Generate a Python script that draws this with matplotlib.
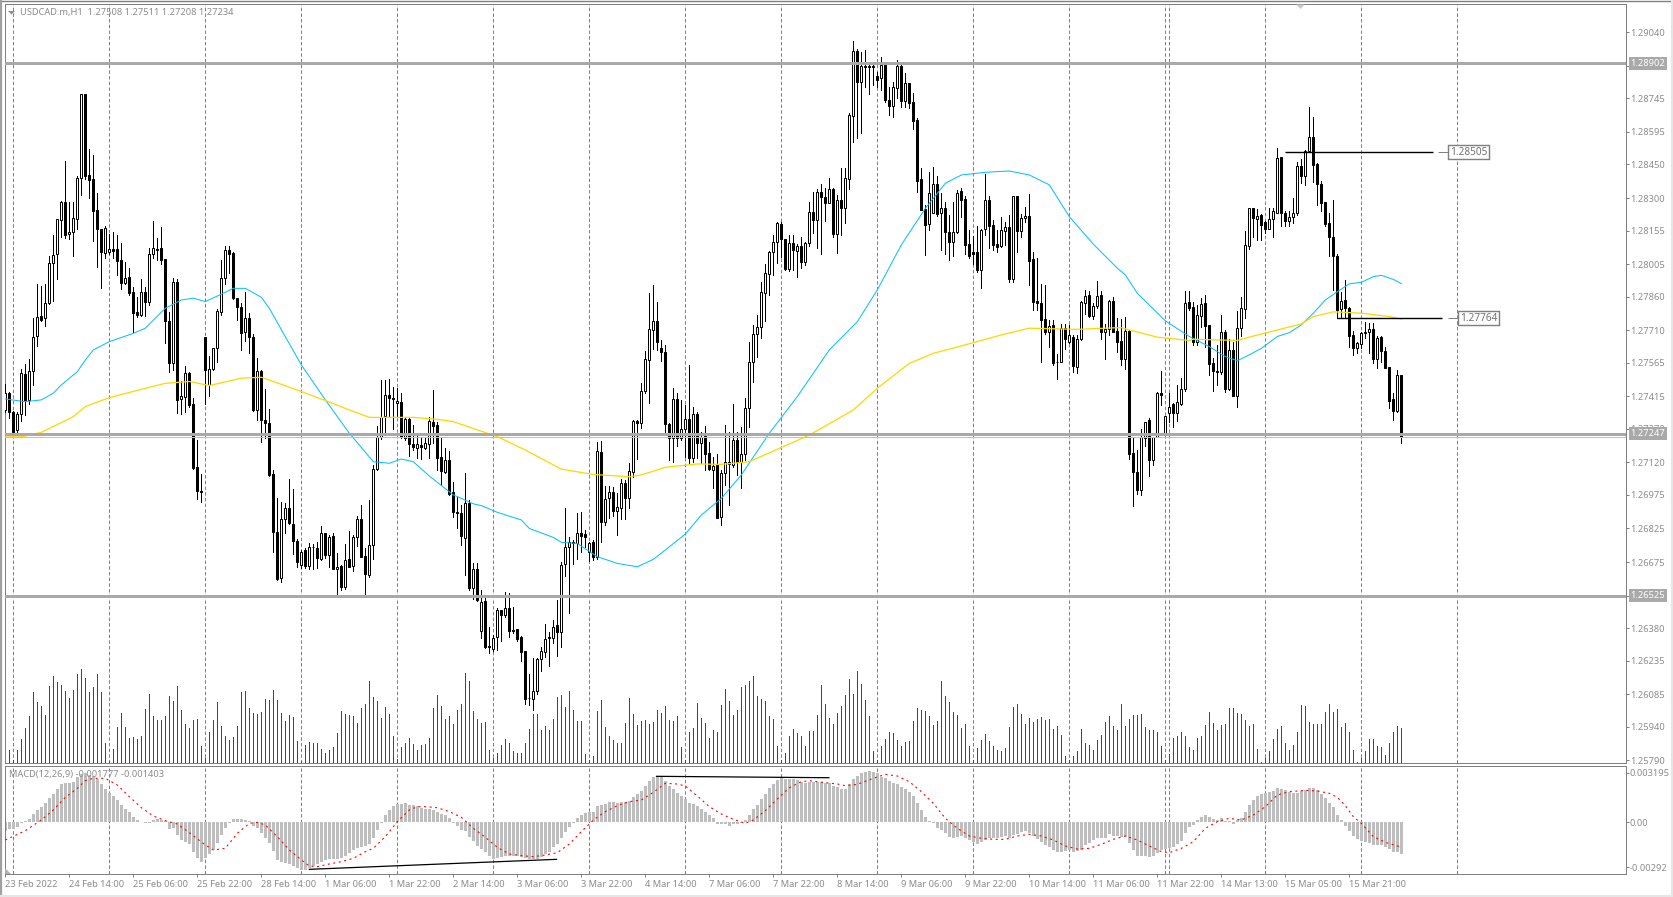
import numpy as np
import matplotlib
matplotlib.use("Agg")
import matplotlib.pyplot as plt
from matplotlib.patches import Polygon
from matplotlib.lines import Line2D
from matplotlib.transforms import blended_transform_factory as blend

plt.rcParams['font.family'] = ['Noto Sans', 'DejaVu Sans']

PT = 1e-5          # prices below are in 1e-5 units
MACD_UNIT = 2.16e-5  # MACD readings below are in this unit

opens = [
127354,127429,127344,127266,127335,127513,127399,127528,127682,127772,
127763,127830,128012,128049,128201,128284,128138,128150,128207,128391,
128763,128403,128384,128246,128162,128054,128057,128073,128073,128024,
127923,127946,127879,127790,127778,127879,127838,128049,128073,128076,
128028,127751,127565,127924,127405,127414,127518,127379,127098,126993,
127679,127466,127536,127629,127793,127945,128068,128054,127853,127815,
127704,127763,127679,127354,127528,127309,127295,127067,126808,126603,
126866,126915,126844,126769,126662,126729,126659,126741,126737,126689,
126804,126707,126792,126646,126658,126565,126687,126659,126786,126866,
126702,126619,126749,127089,127235,127327,127420,127408,127384,127388,
127231,127312,127202,127186,127198,127186,127201,127301,127287,127143,
127079,127131,126987,126897,126893,126784,126937,126558,126643,126369,
126501,126302,126287,126339,126459,126439,126468,126372,126375,126339,
126278,126068,126065,126101,126241,126275,126334,126337,126392,126364,
126665,126744,126766,126758,126803,126799,126721,126763,126699,127165,
126855,126959,126986,126904,126918,127026,126959,127078,127303,127294,
127440,127575,127709,127749,127629,127611,127291,127230,127401,127227,
127267,127312,127141,127334,127208,127238,127160,127086,127108,126875,
127071,127123,127108,127219,127123,127156,127361,127570,127692,127726,
127878,127960,128061,128102,128184,128116,127983,128098,128065,128085,
128016,128098,128236,128204,128326,128303,128280,128339,128140,128291,
128257,128385,128668,128957,128820,128891,128891,128891,128843,128838,
128894,128738,128713,128793,128891,128733,128812,128727,128647,128384,
128251,128184,128235,128361,128232,128254,128147,128102,128150,128332,
128295,128094,128058,128058,127981,128161,128290,128179,128094,128088,
128155,128170,127939,128308,128155,128210,128219,128027,127841,127830,
127759,127700,127732,127567,127566,127722,127659,127680,127548,127670,
127833,127868,127774,127816,127868,127700,127714,127841,127707,127662,
127582,127708,127161,127078,126997,127228,127308,127131,127235,127429,
127253,127342,127380,127342,127381,127447,127835,127812,127659,127774,
127830,127732,127562,127528,127525,127701,127449,127622,127418,127719,
127804,128088,128254,128208,128223,128193,128164,128205,128235,128482,
128235,128199,128214,128235,128443,128400,128512,128571,128452,128363,
128281,128187,128125,128043,127804,127845,127808,127689,127632,127649,
127696,127704,127714,127583,127679,127616,127545,127402,127351,127508]

closes = [
127429,127347,127257,127335,127518,127399,127528,127679,127771,127756,
127830,128009,128045,128205,128284,128135,128150,128210,128388,128763,
128400,128381,128240,128162,128057,128165,128071,128065,128021,127921,
127942,127876,127789,127778,127879,127838,128049,128076,128070,128025,
127753,127565,127924,127400,127415,127518,127377,127094,126990,126988,
127533,127537,127629,127796,127942,128068,128051,127853,127815,127699,
127763,127679,127354,127530,127307,127298,127064,126807,126600,126866,
126915,126848,126771,126677,126722,126659,126741,126740,126692,126804,
126707,126789,126644,126655,126565,126682,126655,126786,126866,126699,
126622,126749,127089,127235,127324,127420,127406,127403,127396,127235,
127312,127202,127190,127201,127190,127205,127305,127284,127141,127083,
127131,126979,126900,126894,126792,126937,126561,126643,126506,126498,
126297,126297,126334,126459,126439,126468,126369,126367,126333,126275,
126065,126067,126101,126241,126276,126333,126342,126386,126364,126662,
126744,126766,126758,126803,126793,126788,126758,126699,127172,126855,
126955,126986,126904,126919,127026,126959,127083,127303,127297,127437,
127580,127714,127749,127659,127614,127290,127230,127401,127227,127267,
127312,127141,127334,127208,127235,127159,127089,127104,126873,127071,
127123,127113,127219,127120,127156,127361,127567,127692,127723,127879,
127964,128061,128102,128187,128117,127983,128098,128068,128085,128016,
128098,128236,128204,128326,128306,128280,128339,128140,128291,128254,
128388,128671,128957,128820,128888,128887,128887,128887,128829,128894,
128738,128713,128797,128891,128733,128812,128726,128646,128378,128247,
128180,128321,128361,128229,128254,128150,128102,128150,128324,128292,
128091,128043,128051,127979,128158,128290,128177,128091,128083,128158,
128170,127939,128307,128155,128210,128222,128021,127838,127833,127756,
127700,127731,127563,127566,127722,127671,127689,127552,127670,127836,
127863,127774,127819,127863,127700,127714,127841,127704,127659,127582,
127707,127158,127075,126997,127232,127302,127131,127235,127429,127421,
127325,127369,127342,127389,127448,127830,127808,127659,127778,127826,
127729,127560,127530,127525,127704,127449,127622,127418,127719,127808,
128089,128254,128210,128222,128181,128161,128205,128244,128478,128235,
128199,128214,128235,128443,128400,128512,128571,128449,128363,128280,
128184,128125,128043,127801,127842,127807,127686,127632,127652,127696,
127704,127714,127582,127674,127615,127540,127396,127351,127509,127234]

highs = [
127469,127436,127350,127347,127536,127558,127580,127763,127915,127909,
127915,128043,128135,128207,128289,128466,128284,128284,128400,128763,
128763,128519,128490,128321,128162,128177,128138,128147,128135,128098,
128016,127987,127903,127857,127937,127905,128076,128198,128121,128170,
128028,127793,127942,127939,127484,127551,127525,127406,127220,127069,
127679,127597,127632,127805,128024,128088,128088,128061,127853,127830,
127879,127786,127692,127585,127533,127448,127359,127086,126960,126945,
126937,127046,127001,126778,126729,126737,126759,126756,126766,126836,
126804,126796,126804,126714,126662,126756,126814,126796,126881,126930,
126737,126952,127109,127283,127488,127488,127491,127458,127451,127429,
127317,127317,127287,127240,127235,127235,127324,127443,127302,127235,
127186,127173,127031,126967,126930,127071,126952,126670,126673,126550,
126513,126386,126349,126468,126461,126540,126535,126473,126375,126345,
126279,126175,126245,126245,126294,126397,126364,126416,126506,126677,
126915,126788,126773,126892,126900,126818,126766,126773,127209,127214,
127014,127014,127011,126982,127044,127041,127119,127309,127309,127473,
127619,127877,127912,127834,127666,127644,127297,127450,127428,127398,
127376,127555,127369,127343,127257,127284,127209,127145,127157,127086,
127287,127257,127381,127257,127277,127406,127656,127733,127778,127927,
128006,128064,128135,128195,128195,128117,128135,128135,128094,128128,
128105,128284,128326,128341,128361,128344,128388,128344,128314,128433,
128436,128678,129001,128966,128951,128961,128902,128902,128864,128928,
128909,128797,128820,128916,128894,128860,128812,128768,128659,128433,
128269,128415,128437,128399,128321,128284,128224,128284,128336,128344,
128307,128158,128131,128177,128162,128408,128310,128202,128158,128217,
128195,128225,128311,128311,128228,128262,128317,128061,128031,127915,
127912,127756,127756,127603,127737,127737,127734,127689,127689,127841,
127890,127886,127830,127930,127886,127737,127845,127860,127764,127761,
127771,127711,127232,127176,127268,127302,127317,127235,127436,127528,
127328,127429,127384,127466,127496,127883,127883,127838,127823,127853,
127868,127734,127585,127644,127778,127711,127671,127659,127798,127857,
128155,128254,128254,128251,128228,128198,128254,128254,128522,128485,
128240,128244,128299,128460,128473,128515,128705,128661,128455,128376,
128284,128232,128292,128051,127882,127934,127815,127707,127659,127704,
127745,127741,127741,127682,127684,127637,127548,127429,127533,127511]

lows = [
127347,127320,127250,127257,127305,127332,127381,127466,127641,127751,
127731,127827,127842,127939,128128,128123,128118,128043,128162,128314,
128385,128302,128110,127990,127900,128034,128049,128031,127957,127894,
127918,127868,127704,127771,127775,127775,127823,128031,128024,128004,
127652,127525,127533,127341,127336,127347,127365,127091,126957,126942,
127381,127417,127533,127570,127778,127915,127967,127850,127756,127622,
127664,127607,127350,127309,127213,127228,127059,126722,126595,126588,
126804,126845,126711,126655,126647,126647,126643,126643,126647,126685,
126692,126655,126644,126528,126551,126554,126652,126637,126747,126699,
126533,126610,126689,127086,127225,127254,127324,127268,127324,127231,
127220,127149,127176,127138,127134,127179,127140,127208,127086,127019,
127071,126975,126878,126826,126751,126618,126551,126509,126499,126334,
126293,126270,126279,126282,126324,126431,126342,126360,126324,126235,
126041,126037,126014,126086,126190,126253,126211,126312,126257,126294,
126613,126449,126666,126689,126721,126744,126680,126684,126687,126766,
126840,126870,126880,126796,126867,126867,126918,127056,127135,127272,
127428,127386,127624,127622,127572,127250,127130,127123,127194,127220,
127145,127116,127123,127141,127116,127086,127086,127004,126873,126841,
127019,126930,127101,127064,127007,127131,127280,127480,127592,127674,
127753,127867,127957,128012,128038,127979,127974,127979,127949,127989,
128001,128088,128143,128076,128050,128198,128277,128128,128055,128135,
128190,128341,128550,128570,128592,128797,128763,128805,128797,128782,
128730,128671,128663,128745,128708,128705,128701,128608,128329,128247,
128046,128158,128235,128222,128068,128050,128024,128043,128143,128217,
128049,128034,128005,127969,127900,128136,128076,128069,128061,128083,
128091,127927,127927,128061,128128,128195,127912,127801,127801,127570,
127694,127637,127555,127493,127566,127627,127652,127522,127521,127667,
127783,127768,127761,127808,127671,127582,127689,127700,127612,127555,
127537,127136,126927,126978,126975,127191,127060,127109,127232,127374,
127250,127302,127280,127305,127377,127439,127801,127644,127644,127726,
127634,127510,127439,127466,127515,127432,127443,127417,127369,127684,
127766,128073,128128,128113,128113,128143,128161,128125,128235,128176,
128176,128176,128187,128225,128366,128359,128504,128370,128269,128240,
128176,128043,127890,127763,127763,127763,127634,127600,127607,127629,
127674,127607,127562,127543,127570,127540,127362,127310,127347,127208]

volumes = [
100,40,10,40,73,106,142,214,184,172,
145,232,262,244,235,217,196,220,268,283,
256,214,229,268,214,61,7,43,109,151,
109,76,79,73,82,163,208,142,130,130,
142,202,187,232,160,118,106,130,133,52,
16,94,130,184,112,82,70,79,112,214,
217,166,151,148,154,193,190,220,190,151,
127,145,139,67,7,55,64,61,61,43,
31,40,49,91,157,148,145,142,121,166,
178,247,199,187,136,169,148,82,13,49,
61,76,58,40,55,58,76,166,205,172,
133,142,118,160,178,271,247,157,133,121,
124,40,16,31,55,73,61,37,31,31,
61,103,148,148,100,112,100,133,199,205,
169,217,160,127,127,28,10,22,157,190,
109,82,70,61,61,121,196,148,115,127,
130,118,124,160,151,172,130,127,142,49,
10,94,106,181,136,121,76,100,94,175,
223,187,145,160,229,235,247,262,202,193,
187,142,133,52,10,31,82,103,91,82,
52,97,97,145,235,178,136,118,151,172,
205,253,208,277,238,190,142,37,10,52,
73,94,91,70,52,64,67,127,166,160,
157,142,115,127,247,202,184,154,145,106,
118,52,10,46,70,88,67,52,40,37,
46,109,169,178,148,118,136,124,133,139,
130,133,103,112,85,22,10,22,37,103,
61,55,40,70,85,124,142,112,100,178,
112,133,145,145,148,109,100,100,94,52,
10,28,76,82,94,82,49,40,76,82,
115,154,121,100,115,118,166,166,151,148,
130,112,118,43,4,16,37,73,103,112,
61,40,55,94,175,172,124,118,118,118,
154,178,154,163,109,121,94,40,4,16,
37,73,73,52,49,25,61,94,112,106]

macd_hist = [
-27,-22,-20,-14,-4,2,10,24,36,46,
58,72,84,99,114,116,117,120,134,144,
146,141,138,128,114,99,86,78,66,51,
39,30,15,6,-1,-4,-2,5,8,6,
2,-21,-17,-39,-55,-60,-66,-90,-108,-120,
-109,-96,-84,-63,-39,-18,-2,8,9,8,
6,2,-11,-18,-34,-48,-63,-87,-114,-120,
-123,-126,-132,-138,-143,-144,-139,-132,-126,-120,
-114,-111,-111,-111,-108,-102,-94,-84,-77,-74,
-72,-66,-48,-24,-4,21,36,48,54,55,
57,52,50,48,42,39,39,36,30,24,
21,12,-2,-12,-24,-27,-45,-57,-72,-81,
-90,-102,-111,-108,-105,-102,-101,-102,-102,-105,
-108,-110,-111,-111,-105,-96,-90,-75,-66,-48,
-30,-15,-2,12,21,27,30,30,48,51,
54,60,60,57,60,60,63,75,84,93,
108,123,135,138,136,123,108,99,87,78,
69,57,54,48,39,30,21,12,-6,-7,
-7,-11,-6,-6,-3,6,21,39,51,69,
84,102,114,126,132,129,129,129,126,120,
117,120,120,120,120,117,117,108,105,99,
99,114,129,138,147,150,153,150,147,135,
132,123,117,114,105,99,90,78,57,36,
15,3,-2,-17,-24,-33,-45,-48,-45,-42,
-48,-54,-60,-66,-60,-54,-48,-48,-48,-45,
-42,-48,-39,-36,-30,-27,-33,-42,-51,-60,
-69,-75,-84,-90,-90,-87,-84,-90,-87,-84,
-69,-63,-54,-48,-48,-48,-36,-42,-42,-45,
-45,-63,-84,-102,-102,-102,-105,-102,-93,-84,
-81,-78,-75,-66,-57,-33,-15,-9,6,15,
21,15,9,6,12,3,3,-6,6,12,
30,51,66,78,84,87,90,93,102,99,
96,90,87,87,93,96,102,102,96,84,
72,57,45,21,6,-12,-27,-42,-51,-57,
-60,-63,-69,-69,-69,-75,-81,-90,-90,-96]

signal_bars = [0,5,9,12,15,18,20,22,25,28,31,34,37,40,43,46,50,52,55,58,61,63,65,68,71,74,76,78,81,84,
87,90,92,95,98,101,103,105,108,111,114,117,120,123,126,129,132,135,138,141,144,147,150,153,156,159,162,165,168,170,
173,176,179,182,185,187,190,193,196,199,201,205,208,210,213,217,220,223,226,229,232,235,238,241,244,247,250,253,256,259,
262,265,268,271,274,277,280,283,286,289,291,294,297,300,303,306,309,312,315,318,321,325,328,331,333,335,337,339,342,345,348,349]
signal_vals = [-54,-26,6,36,74,101,124,131,131,111,76,43,18,4,-6,-32,-69,-84,-79,-34,-4,-1,-9,-44,-84,-114,-132,-134,-126,-119,
-109,-89,-79,-44,1,36,46,46,43,31,14,-19,-46,-76,-96,-101,-104,-99,-92,-66,-29,6,31,49,61,66,89,116,114,108,
78,46,24,8,-4,6,34,69,103,121,124,118,114,109,113,131,143,138,121,91,56,11,-19,-42,-49,-52,-52,-42,-37,-42,
-54,-72,-81,-79,-67,-52,-42,-54,-72,-89,-92,-79,-59,-19,1,11,6,21,46,81,91,95,93,86,74,49,16,-4,-44,-61,-72,-74]

ma_fast_bars = [0,5,9,12,14,18,20,22,26,32,35,40,44,47,50,54,57,60,64,66,70,74,80,86,92,96,99,102,106,112,117,119,
123,129,131,137,139,143,148,153,158,162,165,170,174,179,184,191,198,206,213,218,224,230,235,239,245,251,256,261,266,272,
278,280,283,290,296,301,305,308,311,314,318,321,324,327,330,333,336,339,342,344,347,349]
ma_fast = [127403,127391,127399,127429,127466,127525,127577,127622,127659,127696,127719,127808,127845,127853,127838,127871,127897,127897,127857,127808,127681,127555,
127399,127250,127123,127116,127135,127123,127059,126975,126935,126927,126897,126863,126825,126785,126763,126758,126699,126669,126654,126687,
126729,126800,126885,126959,127064,127250,127414,127622,127748,127890,128091,128254,128366,128403,128415,128421,128403,128359,128217,128094,
127987,127957,127875,127752,127682,127637,127592,127574,127600,127629,127682,127699,127734,127786,127845,127882,127917,127924,127949,127955,127937,127918]

ma_slow_bars = [0,4,9,17,20,26,34,40,46,51,59,64,67,74,80,86,91,102,108,112,118,123,130,139,147,156,159,165,173,179,186,
201,212,218,226,232,239,249,256,268,279,281,288,296,297,308,312,318,324,327,332,339,346,349]
ma_slow = [127234,127234,127254,127324,127369,127409,127446,127473,127481,127463,127496,127500,127481,127436,127396,127354,127321,127321,127312,127302,127265,
127235,127175,127090,127066,127056,127064,127098,127113,127111,127123,127242,127354,127451,127562,127607,127640,127689,127719,127714,127722,127711,127679,127664,
127670,127664,127684,127711,127738,127771,127792,127786,127771,127760]

price_ticks = [1.29040,1.28890,1.28745,1.28595,1.28450,1.28300,1.28155,1.28005,1.27860,1.27710,1.27565,1.27415,
               1.27270,1.27120,1.26975,1.26825,1.26675,1.26525,1.26380,1.26235,1.26085,1.25940,1.25790]
level_prices = [1.28902, 1.27247, 1.26525]
bid_price = 1.27234
time_labels = ['23 Feb 2022','24 Feb 14:00','25 Feb 06:00','25 Feb 22:00','28 Feb 14:00','1 Mar 06:00','1 Mar 22:00',
               '2 Mar 14:00','3 Mar 06:00','3 Mar 22:00','4 Mar 14:00','7 Mar 06:00','7 Mar 22:00','8 Mar 14:00',
               '9 Mar 06:00','9 Mar 22:00','10 Mar 14:00','11 Mar 06:00','11 Mar 22:00','14 Mar 13:00','15 Mar 05:00','15 Mar 21:00']
separator_bars = [2,26,50,74,98,122,146,170,194,218,242,266,290,291,315,339,363]
hi_callouts = [(1.28505, 320, 356.8), (1.27764, 333, 359.2)]
macd_trends = [((76, 137.8), (-0.003067, -0.00242)), ((162.8, 205.9), (0.002960, 0.002870))]

W, H = 1673, 897
fig = plt.figure(figsize=(W/100, H/100), dpi=100, facecolor='white')
def rect(l, t, r, b):
    return [l/W, 1-b/H, (r-l)/W, (b-t)/H]

L, R = 4.5, 1625.7
GR = '#808080'
TXT = '#8c8c8c'
PX = 0.72
FS = 6.7

axv = fig.add_axes(rect(L, 4, R, 763.3), zorder=0)
ax = fig.add_axes(rect(L, 4, R, 763.3), zorder=1)
axm = fig.add_axes(rect(L, 765.5, R, 874), zorder=1)
ax.patch.set_visible(False)

x = np.arange(len(closes))
xlim = ((L-5.33)/4, (R-5.33)/4)
for a in (axv, ax, axm):
    a.set_xlim(*xlim)
    for s in a.spines.values():
        s.set_color(GR); s.set_linewidth(PX)

dash = (0, (3.4, 2.3))
# volumes
axv.set_ylim(0, 2277)
axv.set_xticks([]); axv.set_yticks([])
axv.vlines(x, 0, volumes, color='#0c700c', lw=PX, antialiased=False, zorder=2)
for a in (axv, axm):
    a.vlines(separator_bars, 0, 1, transform=a.get_xaxis_transform(), color=GR, lw=PX, linestyles=[dash], zorder=1)

# candles
O, C, Hi, Lo = (np.array(v)*PT for v in (opens, closes, highs, lows))
ax.set_ylim(1.2904-(763.3-32.3)/22400, 1.2904+(32.3-4)/22400)
ax.vlines(x, Lo, Hi, color='black', lw=PX, antialiased=False, zorder=3)
up = C >= O
ax.bar(x[up], (C-O)[up], bottom=O[up], width=0.5, facecolor='white', edgecolor='black', linewidth=PX, zorder=4)
ax.bar(x[~up], (C-O)[~up], bottom=O[~up], width=0.5, facecolor='black', edgecolor='black', linewidth=PX, zorder=4)

# moving averages and levels
ax.plot(ma_fast_bars, np.array(ma_fast)*PT, color='#00bfff', lw=PX, zorder=5)
ax.plot(ma_slow_bars, np.array(ma_slow)*PT, color='#ffd700', lw=PX+0.2, zorder=5)
ax.axhline(bid_price, color='#c0c0c0', lw=PX, zorder=6)
for p in level_prices:
    ax.axhline(p, color='#a9a9a9', lw=2.16, zorder=6)

ax.yaxis.tick_right()
ax.set_yticks(price_ticks)
ax.set_yticklabels([f'{p:.5f}' for p in price_ticks], fontsize=FS, color=TXT)
ax.tick_params(axis='y', length=2.2, width=PX, color=GR, pad=1.2)
ax.set_xticks([])

# level price tags on the axis
tfig = blend(fig.transFigure, ax.transData)
for p in level_prices:
    fig.text(1630.5/W, p, f'{p:.5f}', transform=tfig, fontsize=FS, color='white', va='center', ha='left', zorder=20,
             bbox=dict(facecolor='#a9a9a9', edgecolor='none', pad=1.4))

# price callouts
for price, a0, a1 in hi_callouts:
    ax.hlines(price, a0, a1, color='black', lw=1.0, zorder=7)
    ax.hlines(price, a1+1.4, a1+4.0, color=GR, lw=PX, zorder=7)
    ax.text(a1+4.4, price, f'{price:.5f}', fontsize=FS+0.5, color='#707070', va='center', ha='left', zorder=8,
            bbox=dict(facecolor='white', edgecolor=GR, linewidth=PX+0.3, pad=1.3))

# MACD
axm.set_ylim(-(874-822)/15430, (822-765.5)/15430)
axm.bar(x, np.array(macd_hist)*MACD_UNIT, width=0.75, color='#bebebe', linewidth=0, antialiased=False, zorder=2)
axm.plot(signal_bars, np.array(signal_vals)*MACD_UNIT, color='red', lw=0.8, linestyle=(0, (1.8, 3.2)), zorder=3)
for xs, ys in macd_trends:
    axm.plot(xs, ys, color='black', lw=0.9, zorder=4)
axm.yaxis.tick_right()
axm.set_yticks([0.003195, 0.0, -0.00292])
axm.set_yticklabels(['0.003195', '0.00', '-0.00292'], fontsize=FS, color=TXT)
axm.tick_params(axis='y', length=2.2, width=PX, color=GR, pad=0.8)
axm.set_xticks(np.arange(len(time_labels))*16)
axm.set_xticklabels(time_labels, fontsize=FS, color=TXT, ha='left')
axm.tick_params(axis='x', length=2.2, width=PX, color=GR, pad=1.8)

# captions
fig.text(20/W, 1-12.5/H, 'USDCAD.m,H1  1.27508 1.27511 1.27208 1.27234', fontsize=FS, color=TXT, va='center', ha='left')
fig.text(9.3/W, 1-774.7/H, 'MACD(12,26,9) -0.001777 -0.001403', fontsize=FS, color=TXT, va='center', ha='left', zorder=20)

# window furniture
def poly(pts, color):
    fig.add_artist(Polygon([(px/W, 1-py/H) for px, py in pts], closed=True, transform=fig.transFigure,
                           facecolor=color, edgecolor='none', zorder=15))
poly([(8, 11), (15, 11), (11.5, 14.5)], '#8c8c8c')
poly([(1296.5, 4.5), (1304.5, 4.5), (1300.5, 9)], '#c8c8c8')
poly([(5, 868), (5, 874), (11, 874)], '#b0b0b0')
fig.add_artist(Line2D([0, 1], [1-1.2/H, 1-1.2/H], transform=fig.transFigure, color='#808080', lw=1.0))
fig.add_artist(Line2D([1.2/W, 1.2/W], [0, 1], transform=fig.transFigure, color='#a0a0a0', lw=1.6))
fig.add_artist(Line2D([1-1.5/W, 1-1.5/W], [0, 1], transform=fig.transFigure, color='#e6e6e6', lw=1.6))
fig.add_artist(Line2D([0, 1], [1.5/H, 1.5/H], transform=fig.transFigure, color='#e6e6e6', lw=1.6))

fig.savefig('out.png', dpi=100, facecolor='white')
